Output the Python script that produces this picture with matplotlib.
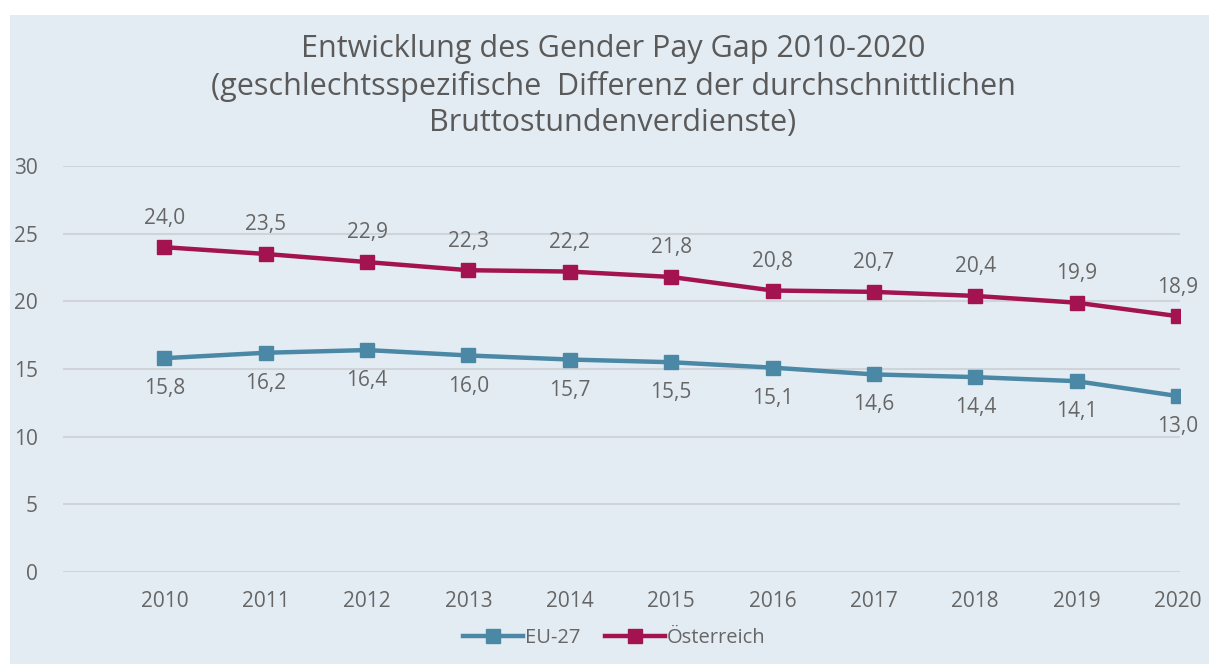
import matplotlib
matplotlib.use("Agg")
from matplotlib import pyplot as plt
from matplotlib.patches import Rectangle

# data
years = [2010, 2011, 2012, 2013, 2014, 2015, 2016, 2017, 2018, 2019, 2020]
eu27 = [15.8, 16.2, 16.4, 16.0, 15.7, 15.5, 15.1, 14.6, 14.4, 14.1, 13.0]
austria = [24.0, 23.5, 22.9, 22.3, 22.2, 21.8, 20.8, 20.7, 20.4, 19.9, 18.9]
y_ticks = [0, 5, 10, 15, 20, 25, 30]

title = ("Entwicklung des Gender Pay Gap 2010-2020\n"
         "(geschlechtsspezifische  Differenz der durchschnittlichen\n"
         "Bruttostundenverdienste)")

bg = "#e4ecf3"
text_col = "#666666"
eu_col = "#4a88a5"
at_col = "#a2134f"

plt.rcParams["font.family"] = ["Open Sans", "DejaVu Sans"]

fig = plt.figure(figsize=(12.09, 6.64), dpi=100)
fig.patch.set_facecolor("white")
# light panel behind the chart (white strip on top and left)
fig.patches.append(Rectangle((10 / 1209, 0), 1.0, 1 - 15 / 664, transform=fig.transFigure,
                             facecolor=bg, edgecolor="none", zorder=-5))

ax = fig.add_axes([63 / 1209, 1 - 572 / 664, (1180 - 63) / 1209, (572 - 166) / 664])
ax.set_zorder(1)
ax.set_facecolor("none")

ax.plot(years, eu27, color=eu_col, lw=3.2, marker="s", ms=10, label="EU-27", zorder=3)
ax.plot(years, austria, color=at_col, lw=3.2, marker="s", ms=10, label="Österreich", zorder=3)

# data labels
for x, v in zip(years, eu27):
    ax.annotate(f"{v:.1f}".replace(".", ","), (x, v), xytext=(0, -22), textcoords="offset points",
                ha="center", va="center", fontsize=15, color=text_col)
for x, v in zip(years, austria):
    ax.annotate(f"{v:.1f}".replace(".", ","), (x, v), xytext=(0, 21), textcoords="offset points",
                ha="center", va="center", fontsize=15, color=text_col)

ax.set_xlim(2009, 2020.02)
ax.set_ylim(0, 30)
ax.set_yticks(y_ticks)
ax.set_xticks(years)
ax.grid(axis="y", color="#cfd4d8", lw=1.5)
ax.set_axisbelow(True)
for s in ax.spines.values():
    s.set_visible(False)
ax.tick_params(length=0, labelsize=15, colors=text_col)
ax.tick_params(axis="y", pad=18)
ax.tick_params(axis="x", pad=14)

fig.text(0.507, 1 - 86 / 664, title, ha="center", va="center", fontsize=22,
         color="#5a5a5a", linespacing=1.28)

fig.legend(loc="center", bbox_to_anchor=(0.508, 1 - 638 / 664), ncol=2, frameon=False,
           fontsize=14.5, labelcolor=text_col, handlelength=3.0, handletextpad=0.1,
           columnspacing=1.2)

fig.savefig("out.png", dpi=100, facecolor="white")
